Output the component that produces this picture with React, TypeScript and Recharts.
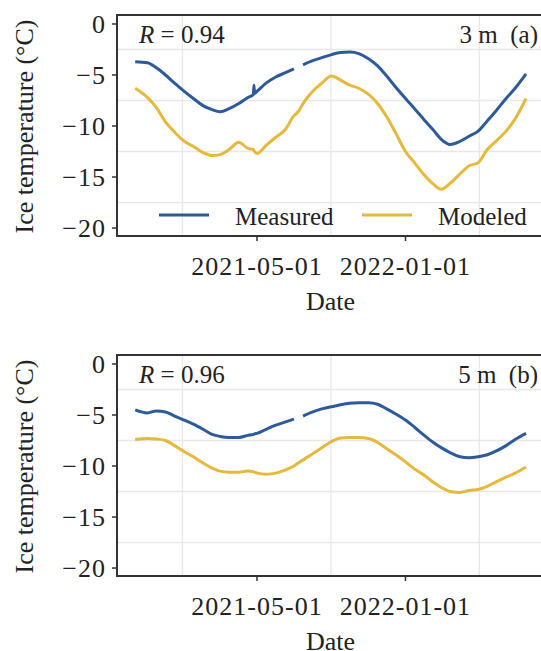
import React from 'react';
import { LineChart, Line, XAxis, YAxis, CartesianGrid, ReferenceArea } from 'recharts';

const FONT = 'Liberation Serif';
const BLUE = '#2d5b9a';
const YELLOW = '#e6b83c';
const INK = '#222';

const DATES = [
  '2020-10-12', '2020-11-01', '2020-11-16', '2020-12-01', '2020-12-16',
  '2021-01-01', '2021-01-16', '2021-02-01', '2021-02-16', '2021-03-01', '2021-03-16',
  '2021-04-01', '2021-04-16', '2021-04-25', '2021-04-26', '2021-04-27',
  '2021-05-01', '2021-05-16', '2021-06-01', '2021-06-16', '2021-07-01', '2021-07-08',
  '2021-07-16', '2021-08-01', '2021-08-16', '2021-09-01', '2021-09-16', '2021-10-01',
  '2021-10-16', '2021-11-01', '2021-11-16', '2021-12-01', '2021-12-16',
  '2022-01-01', '2022-01-16', '2022-02-01', '2022-02-16', '2022-03-01', '2022-03-16',
  '2022-04-01', '2022-04-16', '2022-05-01', '2022-05-16', '2022-06-01', '2022-06-16',
  '2022-07-01', '2022-07-19',
];

// 3 m depth
const MEASURED_3M = [
  -3.7, -3.8, -4.3, -5.0, -5.8,
  -6.6, -7.3, -8.0, -8.4, -8.6, -8.3, -7.8, -7.2, -6.9, -6.0, -6.8,
  -6.6, -5.8, -5.2, -4.8, -4.4, null, -4.0, -3.6, -3.3, -3.0, -2.8, -2.75, -2.9, -3.4, -4.1, -5.1, -6.2,
  -7.3, -8.3, -9.4, -10.4, -11.3, -11.8, -11.5, -11.0, -10.5, -9.5, -8.4, -7.3, -6.3, -4.9,
];
const MODELED_3M = [
  -6.3, -7.2, -8.2, -9.6, -10.6,
  -11.5, -12.0, -12.6, -12.9, -12.8, -12.3, -11.6, -12.2, -12.3, -12.4, -12.5,
  -12.7, -11.9, -11.1, -10.4, -9.0, -8.6, -7.8, -6.6, -5.8, -5.1, -5.5, -6.0, -6.3, -6.9, -7.8, -9.1, -10.7,
  -12.5, -13.6, -14.8, -15.7, -16.2, -15.6, -14.7, -13.9, -13.6, -12.3, -11.4, -10.5, -9.3, -7.3,
];

// 5 m depth
const MEASURED_5M = [
  -4.5, -4.8, -4.6, -4.7, -5.1,
  -5.5, -5.9, -6.4, -6.9, -7.1, -7.2, -7.2, -7.0, -6.9, -6.9, -6.85,
  -6.8, -6.4, -6.0, -5.7, -5.4, null, -5.1, -4.7, -4.4, -4.2, -4.0, -3.85, -3.8, -3.8, -3.95, -4.4, -4.9,
  -5.5, -6.2, -7.0, -7.7, -8.2, -8.7, -9.1, -9.2, -9.1, -8.9, -8.5, -8.0, -7.4, -6.8,
];
const MODELED_5M = [
  -7.4, -7.3, -7.35, -7.5, -8.0,
  -8.6, -9.1, -9.7, -10.2, -10.5, -10.6, -10.6, -10.5, -10.55, -10.6, -10.6,
  -10.7, -10.8, -10.7, -10.4, -10.0, -9.7, -9.4, -8.8, -8.2, -7.6, -7.25, -7.2, -7.2, -7.3, -7.7, -8.3, -8.9,
  -9.6, -10.3, -10.9, -11.6, -12.1, -12.5, -12.6, -12.4, -12.3, -12.0, -11.5, -11.1, -10.7, -10.1,
];

const SERIES_NAMES = ['Measured', 'Modeled'];
const SERIES_COLORS = [BLUE, YELLOW];
const X_TICK_LABELS = ['2021-05-01', '2022-01-01'];
const X_GRID_DATES = ['2020-12-29', '2021-08-31', '2022-05-03'];
const Y_TICKS = [0, -5, -10, -15, -20];
const Y_GRID = [-2.5, -7.5, -12.5, -17.5];

const DAY = 86400000;
const ts = (s: string) => Date.parse(s);
const X0 = ts('2021-05-01');
const X_DOMAIN = [X0 - 231 * DAY, X0 + 473.6 * DAY];
const Y_DOMAIN = [-20.78, 0.88];

const W = 560;
const H = 330;

const TXT = { fontFamily: FONT };

const XTick = ({ x, y, payload }: any) => {
  const d = new Date(payload.value).toISOString().slice(0, 10);
  return (
    <text x={x} y={y + 32} textAnchor="middle" style={TXT} fontFamily={FONT} fontSize={26} letterSpacing={1} fill={INK}>
      {d}
    </text>
  );
};

const YTick = ({ x, y, payload }: any) => (
  <text x={x - 4} y={y + 9} textAnchor="end" style={TXT} fontFamily={FONT} fontSize={26} letterSpacing={1} fill={INK}>
    {payload.value === 0 ? '0' : '\u2212' + Math.abs(payload.value)}
  </text>
);

type PanelProps = {
  top: number;
  measured: (number | null)[];
  modeled: (number | null)[];
  r: string;
  depth: string;
  showLegend?: boolean;
};

function Panel({ top, measured, modeled, r, depth, showLegend }: PanelProps) {
  const rows = DATES.map((d, i) => ({ t: ts(d), measured: measured[i], modeled: modeled[i] }));
  return (
    <div style={{ position: 'absolute', left: 0, top, width: W, height: H, fontFamily: FONT }}>
      <LineChart width={W} height={H} data={rows} margin={{ top: 15, right: 16, bottom: 0, left: 0 }}>
        <CartesianGrid
          stroke="#e8e8e8"
          strokeWidth={1.3}
          horizontalValues={Y_GRID}
          verticalValues={X_GRID_DATES.map(ts)}
        />
        <XAxis
          dataKey="t"
          type="number"
          domain={X_DOMAIN}
          allowDataOverflow
          ticks={X_TICK_LABELS.map(ts)}
          tick={XTick}
          tickSize={5}
          tickLine={{ stroke: '#333', strokeWidth: 1.5 }}
          axisLine={false}
          height={94}
          label={{
            content: ({ viewBox }: any) => (
              <text
                x={viewBox.x + viewBox.width / 2}
                y={viewBox.y + 74}
                textAnchor="middle"
                style={TXT}
                fontFamily={FONT}
                fontSize={26}
                fill={INK}
              >
                Date
              </text>
            ),
          }}
        />
        <YAxis
          type="number"
          domain={Y_DOMAIN}
          allowDataOverflow
          ticks={Y_TICKS}
          tick={YTick}
          tickSize={5}
          tickLine={{ stroke: '#333', strokeWidth: 1.5 }}
          axisLine={false}
          width={117}
          label={{
            content: ({ viewBox }: any) => {
              const cx = 33;
              const cy = viewBox.y + viewBox.height / 2 + 1;
              return (
                <text
                  x={cx}
                  y={cy}
                  transform={`rotate(-90, ${cx}, ${cy})`}
                  textAnchor="middle"
                  style={TXT}
                  fontFamily={FONT}
                  fontSize={26}
                  fill={INK}
                >
                  Ice temperature (°C)
                </text>
              );
            },
          }}
        />
        <Line
          dataKey="measured"
          name={SERIES_NAMES[0]}
          type="monotone"
          stroke={BLUE}
          strokeWidth={3}
          dot={false}
          isAnimationActive={false}
        />
        <Line
          dataKey="modeled"
          name={SERIES_NAMES[1]}
          type="monotone"
          stroke={YELLOW}
          strokeWidth={3}
          dot={false}
          isAnimationActive={false}
        />
        <ReferenceArea
          x1={X_DOMAIN[0]}
          x2={X_DOMAIN[1]}
          y1={Y_DOMAIN[0]}
          y2={Y_DOMAIN[1]}
          fill="none"
          fillOpacity={0}
          stroke="#333"
          strokeWidth={2}
          ifOverflow="visible"
        />
      </LineChart>
      <svg
        width={W}
        height={H}
        style={{ position: 'absolute', left: 0, top: 0, pointerEvents: 'none' }}
      >
        <text x={139} y={43} style={TXT} fontFamily={FONT} fontSize={25} fill={INK}>
          <tspan fontStyle="italic">R</tspan> = {r}
        </text>
        <text
          x={538}
          y={43}
          textAnchor="end"
          fontFamily={FONT}
          fontSize={25}
          fill={INK}
          style={{ whiteSpace: 'pre', fontFamily: FONT }}
        >
          {depth}
        </text>
        {showLegend &&
          SERIES_NAMES.map((name, i) => {
            const x = i === 0 ? 159 : 362;
            return (
              <g key={name}>
                <line x1={x} x2={x + 50} y1={215} y2={215} stroke={SERIES_COLORS[i]} strokeWidth={3} />
                <text x={x + 76} y={225} style={TXT} fontFamily={FONT} fontSize={25} fill={INK}>
                  {name}
                </text>
              </g>
            );
          })}
      </svg>
    </div>
  );
}

export default function App() {
  return (
    <div
      style={{
        position: 'absolute',
        left: 0,
        top: 0,
        width: 541,
        height: 651,
        overflow: 'hidden',
        background: '#fff',
      }}
    >
      <Panel top={0} measured={MEASURED_3M} modeled={MODELED_3M} r="0.94" depth="3 m  (a)" showLegend />
      <Panel top={340} measured={MEASURED_5M} modeled={MODELED_5M} r="0.96" depth="5 m  (b)" />
    </div>
  );
}
